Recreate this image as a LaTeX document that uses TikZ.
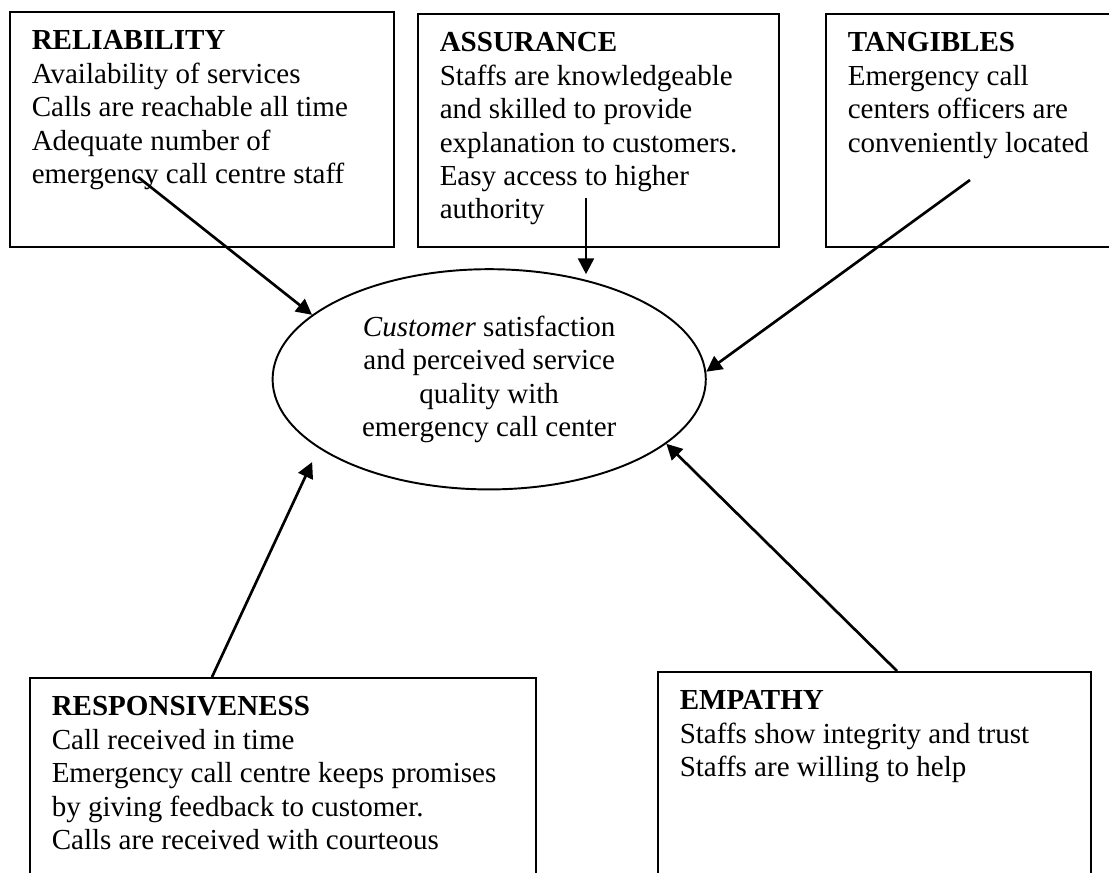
\documentclass[tikz,border=0pt]{standalone}
\usepackage{fontspec}
\setmainfont{Liberation Serif}
\usetikzlibrary{arrows.meta,calc,shapes.geometric}

\newcommand{\factorbox}[4]{\parbox[t][#1][t]{#2}{\rule{0pt}{15.7pt}\textbf{#3}\\#4}}

\begin{document}
\begin{tikzpicture}[x=0.4132pt,y=-0.4132pt,
  every node/.style={font=\fontsize{12}{13.8}\selectfont},
  factor/.style={draw,line width=0.8pt,anchor=north west,inner xsep=9pt,inner ysep=0pt},
  outcome/.style={draw,ellipse,line width=0.8pt,minimum width=179pt,minimum height=91pt,inner sep=0pt,align=center},
  link/.style={-{Triangle[length=6.5pt,width=6.5pt]},line width=1.1pt}]
\useasboundingbox (0,0) rectangle (1109,872);
\node[factor] (rel) at (9,11) {\factorbox{97.1pt}{140.7pt}{RELIABILITY}{Availability of services\\Calls are reachable all time\\Adequate number of\\emergency call centre staff}};
\node[factor] (assur) at (417,13) {\factorbox{96.3pt}{131.2pt}{ASSURANCE}{Staffs are knowledgeable\\and skilled to provide\\explanation to customers.\\Easy access to higher\\authority}};
\node[factor] (tang) at (825,13) {\factorbox{96.3pt}{108pt}{TANGIBLES}{Emergency call\\centers officers are\\conveniently located}};
\node[factor] (resp) at (29,677) {\factorbox{92.1pt}{191.1pt}{RESPONSIVENESS}{Call received in time\\Emergency call centre keeps promises\\by giving feedback to customer.\\Calls are received with courteous}};
\node[factor] (emp) at (657,671) {\factorbox{94.6pt}{160.9pt}{EMPATHY}{Staffs show integrity and trust\\Staffs are willing to help}};
\node[outcome] (sat) at (489.2,379.3) {\textit{Customer} satisfaction\\and perceived service\\quality with\\emergency call center};
% feet of the arrows
\coordinate (relfoot) at ($(rel.north west)+(129,166)$);
\coordinate (assurfoot) at ($(assur.north west)+(169,185)$);
\coordinate (tangfoot) at ($(tang.north west)+(145,167)$);
\coordinate (respfoot) at ($(resp.north west)+(183,0)$);
\coordinate (empfoot) at ($(emp.north west)+(240,0)$);
\draw[link] (relfoot) -- (sat.160);
\draw[link] (assurfoot) -- ($(assurfoot |- sat.north)+(0,6)$);
\draw[link] (tangfoot) -- (sat.2);
\draw[link,shorten >=6.3pt] (respfoot) -- (sat.202);
\draw[link] (empfoot) -- (sat.340);
\end{tikzpicture}
\end{document}
